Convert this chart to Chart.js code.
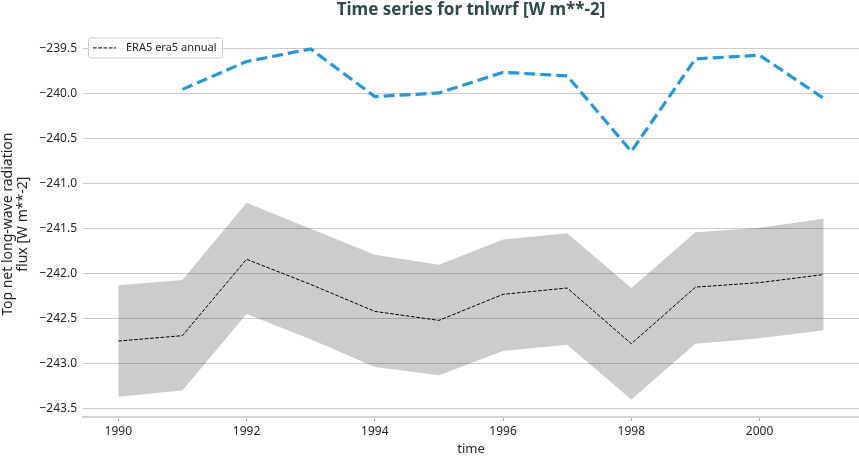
<!DOCTYPE html>
<html>
<head>
<meta charset="utf-8">
<script src="https://cdn.jsdelivr.net/npm/chart.js@4/dist/chart.umd.min.js"></script>
<style>
  html, body { margin: 0; padding: 0; background: #fff; }
  #wrap { width: 859px; height: 457px; }
</style>
</head>
<body>
<div id="wrap"><canvas id="tsChart"></canvas></div>
<script>
// values
const years = [1990, 1991, 1992, 1993, 1994, 1995, 1996, 1997, 1998, 1999, 2000, 2001];
const meanVals = [-242.75, -242.69, -241.84, -242.12, -242.42, -242.52, -242.23, -242.16, -242.78, -242.15, -242.10, -242.01];
const upperVals = [-242.13, -242.07, -241.21, -241.50, -241.79, -241.90, -241.62, -241.55, -242.16, -241.54, -241.49, -241.39];
const lowerVals = [-243.37, -243.30, -242.45, -242.73, -243.04, -243.13, -242.86, -242.79, -243.40, -242.78, -242.72, -242.63];
const blueYears = [1991, 1992, 1993, 1994, 1995, 1996, 1997, 1998, 1999, 2000, 2001];
const blueVals = [-239.95, -239.64, -239.50, -240.03, -239.99, -239.76, -239.80, -240.64, -239.61, -239.57, -240.05];
const xTicks = [1990, 1992, 1994, 1996, 1998, 2000];
const yTicks = [-243.5, -243.0, -242.5, -242.0, -241.5, -241.0, -240.5, -240.0, -239.5];
const yTitle = ['Top net long-wave radiation', 'flux [W m**-2]'];

const pts = (xs, ys) => xs.map((x, i) => ({x: x, y: ys[i]}));
const FONT = "'Noto Sans', sans-serif";

// small boxed legend in the top-left of the plot + centred two-line y title
const extras = {
    id: 'extras',
    afterDraw(chart) {
        const c = chart.ctx;
        const a = chart.chartArea;
        const x = a.left + 5, y = a.top + 6, w = 134, h = 20;
        c.save();
        c.fillStyle = 'rgba(255,255,255,0.8)';
        c.strokeStyle = '#cccccc';
        c.lineWidth = 1;
        c.beginPath();
        c.roundRect(x + 0.5, y + 0.5, w, h, 2);
        c.fill();
        c.stroke();
        c.strokeStyle = '#000';
        c.setLineDash([3.7, 1.6]);
        c.beginPath();
        c.moveTo(x + 5, y + 10.5);
        c.lineTo(x + 28, y + 10.5);
        c.stroke();
        c.setLineDash([]);
        c.fillStyle = '#262626';
        c.font = "11px " + FONT;
        c.textBaseline = 'middle';
        c.fillText('ERA5 era5 annual', x + 38, y + 10.5);

        // y axis title
        c.translate(0, (a.top + a.bottom) / 2);
        c.rotate(-Math.PI / 2);
        c.font = "14px " + FONT;
        c.textAlign = 'center';
        c.fillText(yTitle[0], 0, 8);
        c.fillText(yTitle[1], 0, 23);
        c.restore();
    }
};

const ctx = document.getElementById("tsChart");
let tsChart = new Chart(ctx, {
    type: 'line',
    data: {
        datasets: [{
            label: 'lower',
            data: pts(years, lowerVals),
            borderWidth: 0,
            pointRadius: 0,
            fill: false
        }, {
            label: 'upper',
            data: pts(years, upperVals),
            borderWidth: 0,
            pointRadius: 0,
            backgroundColor: 'rgba(0,0,0,0.2)',
            fill: '-1'
        }, {
            label: 'ERA5 era5 annual',
            data: pts(years, meanVals),
            borderColor: '#000',
            borderWidth: 1,
            borderDash: [3.7, 1.6],
            pointRadius: 0,
            fill: false
        }, {
            label: 'blue',
            data: pts(blueYears, blueVals),
            borderColor: '#1f9ae0',
            borderWidth: 3.2,
            borderDash: [11, 5],
            pointRadius: 0,
            fill: false
        }]
    },
    options: {
        responsive: true,
        maintainAspectRatio: false,
        animation: false,
        layout: { padding: 0 },
        plugins: {
            legend: { display: false },
            tooltip: { enabled: false },
            title: {
                display: true,
                fullSize: false,
                text: 'Time series for tnlwrf [W m**-2]',
                color: '#2b4a4a',
                font: { family: FONT, size: 17, weight: 'bold' },
                padding: { top: 0, bottom: 11 }
            }
        },
        scales: {
            x: {
                type: 'linear',
                min: 1989.45,
                max: 2001.55,
                afterBuildTicks: (s) => { s.ticks = xTicks.map(v => ({value: v})); },
                afterFit: (s) => { s.height = 40; },
                ticks: {
                    color: '#262626',
                    font: { family: FONT, size: 12 },
                    padding: 3,
                    maxRotation: 0,
                    callback: (v) => String(v)
                },
                grid: {
                    drawOnChartArea: false,
                    drawTicks: true,
                    tickLength: 4,
                    color: '#aaaaaa'
                },
                border: { display: true, color: '#d4d4d4', width: 2 },
                title: {
                    display: true,
                    text: 'time',
                    color: '#262626',
                    font: { family: FONT, size: 13 },
                    padding: { top: 0, bottom: 0 }
                }
            },
            y: {
                min: -243.595,
                max: -239.305,
                afterBuildTicks: (s) => { s.ticks = yTicks.map(v => ({value: v})); },
                afterFit: (s) => { s.width = 83; },
                ticks: {
                    color: '#262626',
                    font: { family: FONT, size: 12 },
                    padding: 6,
                    callback: (v) => v.toFixed(1).replace('-', '\u2212')
                },
                grid: {
                    drawTicks: false,
                    color: '#cccccc',
                    lineWidth: 1
                },
                border: { display: false }
            }
        }
    },
    plugins: [extras]
});
</script>
</body>
</html>
